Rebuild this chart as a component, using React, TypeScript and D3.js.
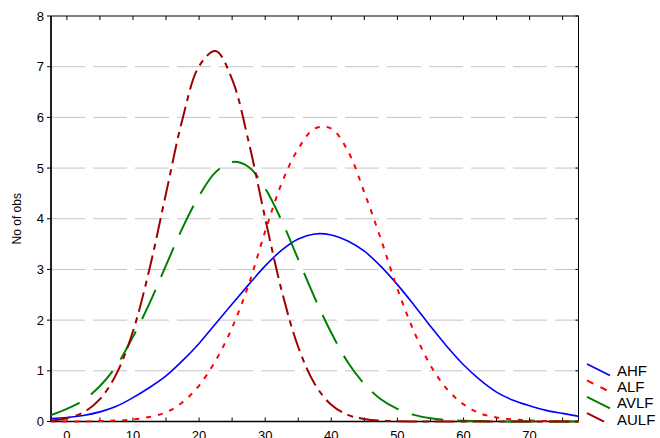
import * as d3 from "d3";

// values
const xValues = [-2.5, 0, 2.5, 5, 7.5, 10, 12.5, 15, 17.5, 20, 22.5, 25, 27.5, 30, 32.5, 35, 37.5, 40, 42.5, 45, 47.5, 50, 52.5, 55, 57.5, 60, 62.5, 65, 67.5, 70, 72.5, 75, 77.5];
const ahf = [0.06, 0.08, 0.12, 0.19, 0.3, 0.47, 0.67, 0.9, 1.2, 1.54, 1.93, 2.32, 2.7, 3.07, 3.38, 3.6, 3.7, 3.68, 3.56, 3.36, 3.06, 2.7, 2.3, 1.88, 1.48, 1.12, 0.82, 0.58, 0.42, 0.31, 0.22, 0.16, 0.1];
const alf = [0, 0, 0, 0.01, 0.02, 0.04, 0.09, 0.18, 0.38, 0.71, 1.2, 1.85, 2.7, 3.75, 4.7, 5.38, 5.78, 5.78, 5.34, 4.52, 3.6, 2.62, 1.78, 1.11, 0.64, 0.34, 0.16, 0.08, 0.04, 0.02, 0.01, 0, 0];
const avlf = [0.12, 0.25, 0.42, 0.7, 1.1, 1.67, 2.33, 3.08, 3.82, 4.45, 4.92, 5.12, 5.02, 4.6, 3.96, 3.2, 2.44, 1.75, 1.17, 0.74, 0.44, 0.25, 0.13, 0.065, 0.03, 0.015, 0.01, 0, 0, 0, 0, 0, 0];
const aulf = [0.02, 0.066, 0.18, 0.44, 0.94, 1.78, 3.01, 4.5, 5.97, 7.01, 7.31, 6.75, 5.52, 4.01, 2.58, 1.47, 0.74, 0.33, 0.13, 0.05, 0.015, 0.005, 0, 0, 0, 0, 0, 0, 0, 0, 0, 0, 0];
const seriesNames = ["AHF", "ALF", "AVLF", "AULF"];
const yTicks = [0, 1, 2, 3, 4, 5, 6, 7, 8];
const xTicks = [0, 10, 20, 30, 40, 50, 60, 70];
const xMinorTicks = [0, 5, 10, 15, 20, 25, 30, 35, 40, 45, 50, 55, 60, 65, 70, 75];

const width = 660;
const height = 438;
const left = 51;
const right = 578.5;
const top = 16;
const bottom = 421.5;

const styles = [
  { color: "#0000ff", dash: "none", w: 1.6 },
  { color: "#ff0000", dash: "5,7", w: 2 },
  { color: "#008000", dash: "32,14", w: 2 },
  { color: "#a00000", dash: "20,6,6,6", w: 2 },
];

const App = () => {
  const x = d3.scaleLinear().domain([-2.4, 77.4]).range([left, right]);
  const y = d3.scaleLinear().domain([0, 8]).range([bottom, top]);

  const line = d3
    .line<number>()
    .x((_, i) => x(xValues[i]))
    .y((d) => y(d))
    .curve(d3.curveCatmullRom.alpha(0.5));

  const allSeries = [ahf, alf, avlf, aulf];
  const font = "'Liberation Sans', Arial, sans-serif";

  return (
    <svg
      width={width}
      height={height}
      style={{ position: "absolute", left: 0, top: 0, background: "#fff" }}
      fontFamily={font}
    >
      <defs>
        <clipPath id="plot">
          <rect x={left} y={top} width={right - left} height={bottom - top + 2} />
        </clipPath>
      </defs>
      <rect width={width} height={height} fill="#fff" />

      {/* grid */}
      {yTicks.slice(1, 8).map((t) => (
        <line
          key={t}
          x1={left}
          x2={right}
          y1={y(t)}
          y2={y(t)}
          stroke="#c4c4c4"
          strokeDasharray="34,8"
        />
      ))}

      {/* frame */}
      <rect x={left} y={top} width={right - left} height={bottom - top} fill="none" stroke="#000" strokeWidth={1} />
      <line x1={left} x2={left} y1={top} y2={bottom} stroke="#000" strokeWidth={1.5} />
      <line x1={left} x2={right} y1={bottom} y2={bottom} stroke="#000" strokeWidth={1.6} />

      {/* ticks */}
      {xMinorTicks.map((t) => (
        <g key={t}>
          <line x1={x(t)} x2={x(t)} y1={top} y2={top + 4} stroke="#000" />
          <line x1={x(t)} x2={x(t)} y1={bottom} y2={bottom - 4} stroke="#000" />
        </g>
      ))}
      {yTicks.map((t) => (
        <g key={t}>
          <line x1={left - 4} x2={left} y1={y(t)} y2={y(t)} stroke="#000" />
          <line x1={right - 3} x2={right} y1={y(t)} y2={y(t)} stroke="#000" />
          <text x={left - 7} y={y(t) + 4.5} textAnchor="end" fontSize={13} fill="#000">
            {t}
          </text>
        </g>
      ))}
      {xTicks.map((t) => (
        <text key={t} x={x(t)} y={440} textAnchor="middle" fontSize={13} fill="#000">
          {t}
        </text>
      ))}

      <text
        transform={`translate(21,${(top + bottom) / 2}) rotate(-90)`}
        textAnchor="middle"
        fontSize={12}
        fill="#000"
      >
        No of obs
      </text>

      {/* curves */}
      <g clipPath="url(#plot)">
        {allSeries.map((s, i) => (
          <path
            key={seriesNames[i]}
            d={line(s) || ""}
            fill="none"
            stroke={styles[i].color}
            strokeWidth={styles[i].w}
            strokeDasharray={styles[i].dash}
          />
        ))}
      </g>

      {/* legend */}
      {seriesNames.map((name, i) => {
        const cy = 370 + i * 16.4;
        const len = i === 3 ? 17 : 23;
        return (
          <g key={name}>
            <line
              x1={587}
              y1={cy - 6}
              x2={587 + len}
              y2={cy - 6 + len * 0.5}
              stroke={styles[i].color}
              strokeWidth={styles[i].w}
              strokeDasharray={i === 1 ? "7,8" : "none"}
            />
            <text x={617} y={cy + 5.5} fontSize={15} fill="#000">
              {name}
            </text>
          </g>
        );
      })}
    </svg>
  );
};

export default App;
